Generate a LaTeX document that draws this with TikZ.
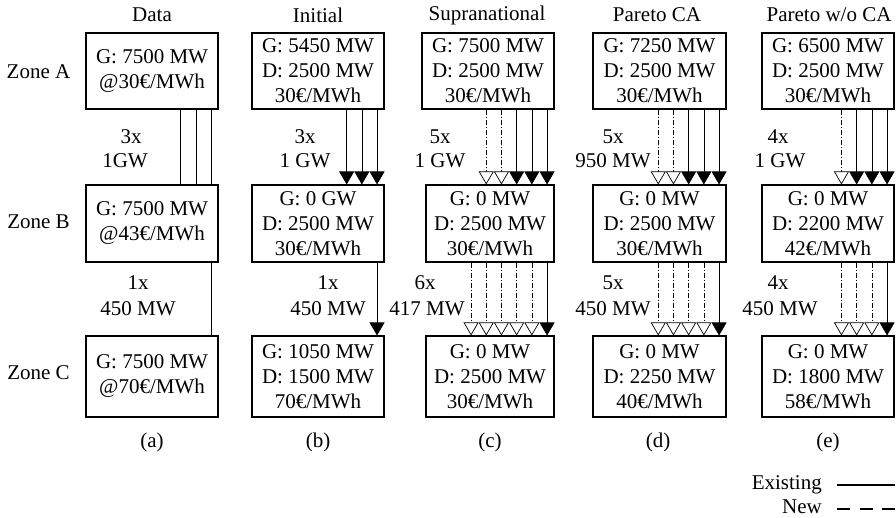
\documentclass[tikz,border=0pt]{standalone}
\usepackage{fontspec}
\setmainfont{Liberation Serif}
\usetikzlibrary{arrows.meta}
\begin{document}
\begin{tikzpicture}[x=1pt,y=-1pt,
  zbox/.style={draw,line width=1.1pt,inner sep=0pt,align=center,font=\fontsize{21}{25}\selectfont},
  txt/.style={inner sep=0pt,align=center,font=\fontsize{21}{25}\selectfont},
  plain/.style={line width=0.7pt},
  exist/.style={line width=0.7pt,-{Triangle[width=15pt,length=13pt]}},
  newl/.style={line width=0.7pt,dash pattern=on 5pt off 2pt on 1pt off 2pt,-{Triangle[width=15pt,length=13pt,fill=white,line width=0.7pt]}}]
\useasboundingbox (0,0) rectangle (896,517);
% column titles
\node[txt] (ta) at (152,15) {Data};
\node[txt] (tb) at (318,15) {Initial};
\node[txt] (tc) at (487,15) {Supranational};
\node[txt] (td) at (657,15) {Pareto CA};
\node[txt] (te) at (829,15) {Pareto w/o CA};
% row labels
\node[txt] (za) at (38.5,72) {Zone A};
\node[txt] (zb) at (38.5,222) {Zone B};
\node[txt] (zc) at (38.5,373) {Zone C};
% boxes (a)
\node[zbox,minimum width=132,minimum height=76] (aA) at (152,71) {G: 7500 MW\\@30€/MWh};
\node[zbox,minimum width=132,minimum height=77] (aB) at (152,223.5) {G: 7500 MW\\@43€/MWh};
\node[zbox,minimum width=132,minimum height=81] (aC) at (152,376.5) {G: 7500 MW\\@70€/MWh};
% boxes (b)
\node[zbox,minimum width=132,minimum height=76] (bA) at (318,71) {G: 5450 MW\\D: 2500 MW\\30€/MWh};
\node[zbox,minimum width=132,minimum height=77] (bB) at (318,223.5) {G: 0 GW\\D: 2500 MW\\30€/MWh};
\node[zbox,minimum width=132,minimum height=81] (bC) at (318,376.5) {G: 1050 MW\\D: 1500 MW\\70€/MWh};
% boxes (c)
\node[zbox,minimum width=132,minimum height=76] (cA) at (488,71) {G: 7500 MW\\D: 2500 MW\\30€/MWh};
\node[zbox,minimum width=128,minimum height=77] (cB) at (490,223.5) {G: 0 MW\\D: 2500 MW\\30€/MWh};
\node[zbox,minimum width=128,minimum height=81] (cC) at (490,376.5) {G: 0 MW\\D: 2500 MW\\30€/MWh};
% boxes (d)
\node[zbox,minimum width=133,minimum height=76] (dA) at (659.5,71) {G: 7250 MW\\D: 2500 MW\\30€/MWh};
\node[zbox,minimum width=133,minimum height=77] (dB) at (659.5,223.5) {G: 0 MW\\D: 2500 MW\\30€/MWh};
\node[zbox,minimum width=133,minimum height=81] (dC) at (659.5,376.5) {G: 0 MW\\D: 2250 MW\\40€/MWh};
% boxes (e)
\node[zbox,minimum width=132,minimum height=76] (eA) at (828,71) {G: 6500 MW\\D: 2500 MW\\30€/MWh};
\node[zbox,minimum width=132,minimum height=77] (eB) at (828,223.5) {G: 0 MW\\D: 2200 MW\\42€/MWh};
\node[zbox,minimum width=132,minimum height=81] (eC) at (828,376.5) {G: 0 MW\\D: 1800 MW\\58€/MWh};
% connectors (a)
\foreach \k in {0,1,2} {\draw[plain] ([xshift={-7.5pt-15.2pt*\k}]aA.south east) -- ([xshift={-7.5pt-15.2pt*\k}]aB.north east);}
\draw[plain] ([xshift=-7.5pt]aB.south east) -- ([xshift=-7.5pt]aC.north east);
% connectors (b)
\foreach \k in {0,1,2} {\draw[exist] ([xshift={-7.5pt-15.2pt*\k}]bA.south east) -- ([xshift={-7.5pt-15.2pt*\k}]bB.north east);}
\draw[exist] ([xshift=-7.5pt]bB.south east) -- ([xshift=-7.5pt]bC.north east);
% connectors (c)
\foreach \k in {0,1,2} {\draw[exist] ([xshift={-7.5pt-15.2pt*\k}]cA.south east) -- ([xshift={-7.5pt-15.2pt*\k}]cB.north east);}
\foreach \k in {3,4} {\draw[newl] ([xshift={-7.5pt-15.2pt*\k}]cA.south east) -- ([xshift={-7.5pt-15.2pt*\k}]cB.north east);}
\draw[exist] ([xshift=-7.5pt]cB.south east) -- ([xshift=-7.5pt]cC.north east);
\foreach \k in {1,...,5} {\draw[newl] ([xshift={-7.5pt-15.2pt*\k}]cB.south east) -- ([xshift={-7.5pt-15.2pt*\k}]cC.north east);}
% connectors (d)
\foreach \k in {0,1,2} {\draw[exist] ([xshift={-7.5pt-15.2pt*\k}]dA.south east) -- ([xshift={-7.5pt-15.2pt*\k}]dB.north east);}
\foreach \k in {3,4} {\draw[newl] ([xshift={-7.5pt-15.2pt*\k}]dA.south east) -- ([xshift={-7.5pt-15.2pt*\k}]dB.north east);}
\draw[exist] ([xshift=-7.5pt]dB.south east) -- ([xshift=-7.5pt]dC.north east);
\foreach \k in {1,...,4} {\draw[newl] ([xshift={-7.5pt-15.2pt*\k}]dB.south east) -- ([xshift={-7.5pt-15.2pt*\k}]dC.north east);}
% connectors (e)
\foreach \k in {0,1,2} {\draw[exist] ([xshift={-7.5pt-15.2pt*\k}]eA.south east) -- ([xshift={-7.5pt-15.2pt*\k}]eB.north east);}
\draw[newl] ([xshift={-7.5pt-15.2pt*3}]eA.south east) -- ([xshift={-7.5pt-15.2pt*3}]eB.north east);
\draw[exist] ([xshift=-7.5pt]eB.south east) -- ([xshift=-7.5pt]eC.north east);
\foreach \k in {1,...,3} {\draw[newl] ([xshift={-7.5pt-15.2pt*\k}]eB.south east) -- ([xshift={-7.5pt-15.2pt*\k}]eC.north east);}
% link labels
\node[txt] (la1) at (131,137) {3x};
\node[txt] (la2) at (125,161) {1GW};
\node[txt] (la3) at (138,283) {1x};
\node[txt] (la4) at (138,309) {450 MW};
\node[txt] (lb1) at (305,137) {3x};
\node[txt] (lb2) at (305,161) {1 GW};
\node[txt] (lb3) at (328,283) {1x};
\node[txt] (lb4) at (328,309) {450 MW};
\node[txt] (lc1) at (440,137) {5x};
\node[txt] (lc2) at (440,161) {1 GW};
\node[txt] (lc3) at (425,283) {6x};
\node[txt] (lc4) at (427,309) {417 MW};
\node[txt] (ld1) at (613,137) {5x};
\node[txt] (ld2) at (613,161) {950 MW};
\node[txt] (ld3) at (613,283) {5x};
\node[txt] (ld4) at (613,309) {450 MW};
\node[txt] (le1) at (778,137) {4x};
\node[txt] (le2) at (780,161) {1 GW};
\node[txt] (le3) at (778,283) {4x};
\node[txt] (le4) at (780,309) {450 MW};
% sub labels
\node[txt] (sa) at (152,442) {(a)};
\node[txt] (sb) at (318,442) {(b)};
\node[txt] (sc) at (490,442) {(c)};
\node[txt] (sd) at (658,442) {(d)};
\node[txt] (se) at (828,442) {(e)};
% legend
\node[txt,anchor=east] (lgE) at (822,485) {Existing};
\node[txt,anchor=east] (lgN) at (822,507) {New};
\coordinate (e1) at (837,485); \coordinate (e2) at (895,485);
\coordinate (n1) at (837,509); \coordinate (n2) at (895,509);
\draw[line width=1.2pt] (e1) -- (e2);
\draw[line width=1.2pt,dash pattern=on 13pt off 9.5pt] (n1) -- (n2);
\end{tikzpicture}
\end{document}
